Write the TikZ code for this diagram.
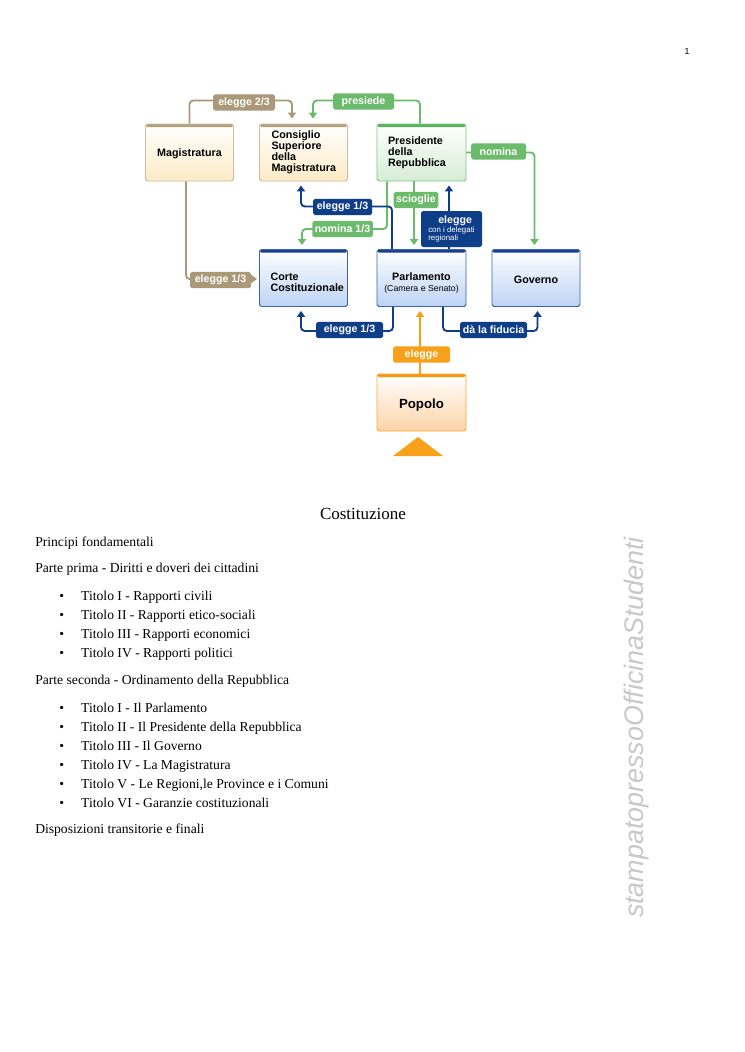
\documentclass[tikz,border=0pt]{standalone}
\usepackage{fontspec}
\setmainfont{Liberation Serif}
\newfontfamily\labfont{Liberation Sans}
\usetikzlibrary{arrows.meta,calc}
\definecolor{tanC}{HTML}{AA9878}
\definecolor{greenC}{HTML}{6CBA6C}
\definecolor{blueC}{HTML}{0F3E88}
\definecolor{orangeC}{HTML}{F7A11A}
\definecolor{tanB}{HTML}{CDBB9B}
\definecolor{tanT}{HTML}{B3A07E}
\definecolor{tanF}{HTML}{FDEBC6}
\definecolor{greenB}{HTML}{7DC57D}
\definecolor{greenT}{HTML}{5DB05D}
\definecolor{greenF}{HTML}{D5EDD5}
\definecolor{blueB}{HTML}{3C64A8}
\definecolor{blueT}{HTML}{1A3F8F}
\definecolor{blueF}{HTML}{BDD3F5}
\definecolor{orangeB}{HTML}{F7A838}
\definecolor{orangeT}{HTML}{F49A10}
\definecolor{orangeF}{HTML}{FDD3A8}
\definecolor{wmC}{HTML}{C8C8C8}
\begin{document}
\begin{tikzpicture}[x=0.8pt,y=-0.8pt,
  bx/.style n args={3}{draw=#1, top color=white, bottom color=#2, line width=0.75pt,
     rounded corners=1.5pt, minimum width=70.4pt, minimum height=45.6pt, inner sep=0pt,
     font=\labfont\bfseries\fontsize{8.6}{8.8}\selectfont,
     path picture={\fill[#3] (path picture bounding box.north west) rectangle ([yshift=-2.4pt]path picture bounding box.north east);}},
  tanbox/.style={bx={tanB}{tanF}{tanT}},
  greenbox/.style={bx={greenB}{greenF}{greenT}},
  bluebox/.style={bx={blueB}{blueF}{blueT}},
  orangebox/.style={bx={orangeB}{orangeF}{orangeT}},
  lab/.style={fill=#1, text=white, rounded corners=1.5pt, inner xsep=2pt, inner ysep=0pt,
     minimum height=13pt, font=\labfont\bfseries\fontsize{8.5}{9}\selectfont},
  con/.style={draw=#1, line width=1.5pt, rounded corners=3pt, -{Triangle[width=6.5pt,length=4.8pt]}},
  body/.style={anchor=base west, inner sep=0pt, font=\fontsize{10.9}{12}\selectfont},
]
\useasboundingbox (0,0) rectangle (744,1052);
\fill[white] (0,0) rectangle (744,1052);

% boxes
\node[tanbox] (mag) at (189.5,152.5) {\rule{0pt}{8pt}Magistratura};
\node[tanbox, text width=51.2pt, align=left] (csm) at (303.5,152.5) {Consiglio\\Superiore\\della\\Magistratura};
\node[greenbox, text width=53.6pt, align=left, minimum width=71.2pt] (pres) at (421.5,152.5) {Presidente\\della\\Repubblica};
\node[bluebox, text width=52.8pt, align=left] (corte) at (303.5,278) {\rule{0pt}{13.5pt}Corte\\Costituzionale};
\node[bluebox, align=center, minimum width=71.2pt] (parl) at (421.5,278) {\rule{0pt}{13.5pt}Parlamento\\{\mdseries\fontsize{7}{8}\selectfont(Camera e Senato)}};
\node[bluebox] (gov) at (536,278) {\rule{0pt}{9.5pt}Governo};
\node[orangebox, minimum width=71.2pt, font=\labfont\bfseries\fontsize{10.6}{12}\selectfont] (pop) at (421.5,402.5) {\rule{0pt}{12.5pt}Popolo};
\fill[orangeC] (393,456) -- (418,437) -- (443,456) -- cycle;

% connectors
\draw[con=tanC] (mag.north) |- ($(csm.north)+(-11.5,-23)$) -- ($(csm.north)+(-11.5,-5)$);
\draw[con=greenC] ($(pres.north)+(-1.5,0)$) |- ($(csm.north)+(9.5,-23)$) -- ($(csm.north)+(9.5,-5)$);
\draw[con=greenC] (pres.east) -| ($(gov.north)+(-1.5,-4)$);
\draw[con=greenC] ($(pres.south)+(-7.5,0)$) -- ($(parl.north)+(-7.5,-4)$);
\draw[con=greenC] ($(pres.south)+(-34.5,0)$) |- ($(corte.north)+(-1.5,-20)$) -- ($(corte.north)+(-1.5,-4)$);
\draw[con=blueC] ($(parl.north)+(-29.5,0)$) |- ($(csm.south)+(-2.5,25)$) -- ($(csm.south)+(-2.5,4)$);
\draw[con=blueC] ($(parl.north)+(27.5,0)$) -- ($(pres.south)+(27.5,4)$);
\draw[con=blueC] ($(parl.south)+(-28.5,0)$) |- ($(corte.south)+(-2.5,24)$) -- ($(corte.south)+(-2.5,4)$);
\draw[con=blueC] ($(parl.south)+(21.5,0)$) |- ($(gov.south)+(1.5,24)$) -- ($(gov.south)+(1.5,4)$);
\draw[con=orangeC] ($(pop.north)+(-1.5,0)$) -- ($(parl.south)+(-1.5,4)$);
\draw[con=tanC] ($(mag.south)+(-3.5,0)$) |- ($(corte.west)+(-2,1)$);

% labels
\node[lab=tanC, minimum width=49.6pt] (l1) at (244,102.5) {elegge 2/3};
\node[lab=greenC, minimum width=48.8pt] (l2) at (363.5,101.5) {presiede};
\node[lab=greenC, minimum width=44pt] (l3) at (498.5,151.5) {nomina};
\node[lab=greenC, minimum width=33.6pt] (l4) at (416,200) {scioglie};
\node[lab=blueC, minimum width=47.2pt] (l5) at (342.5,207) {elegge 1/3};
\node[lab=greenC, minimum width=47.2pt] (l6) at (342.5,229) {nomina 1/3};
\node[lab=blueC, minimum width=48.8pt, minimum height=28.8pt, align=left] (l7) at (451.5,229)
  {\hspace*{8pt}elegge\\[-2pt]{\mdseries\fontsize{6.3}{6.5}\selectfont con i delegati}\\[-2pt]{\mdseries\fontsize{6.3}{6.5}\selectfont regionali}};
\node[lab=tanC, minimum width=48.8pt] (l8) at (220.5,280) {elegge 1/3};
\node[lab=blueC, minimum width=53.6pt] (l9) at (349.5,330) {elegge 1/3};
\node[lab=blueC, minimum width=53.6pt] (l10) at (493.5,330) {dà la fiducia};
\node[lab=orangeC, minimum width=45.6pt] (l11) at (421.5,354.5) {elegge};

% page text
\node[inner sep=0pt, font=\labfont\fontsize{7}{8}\selectfont] (pg) at (687,51) {1};
\node[anchor=base, inner sep=0pt, font=\fontsize{13.6}{15}\selectfont] (title) at (363,519) {Costituzione};
\node[body] (t1) at (35,546) {Principi fondamentali};
\node[body] (t2) at (35,572) {Parte prima - Diritti e doveri dei cittadini};
\node[body] (t3) at (59,600) {\makebox[17.6pt][l]{\textbullet}Titolo I - Rapporti civili};
\node[body] (t4) at (59,619) {\makebox[17.6pt][l]{\textbullet}Titolo II - Rapporti etico-sociali};
\node[body] (t5) at (59,638) {\makebox[17.6pt][l]{\textbullet}Titolo III - Rapporti economici};
\node[body] (t6) at (59,657) {\makebox[17.6pt][l]{\textbullet}Titolo IV - Rapporti politici};
\node[body] (t7) at (35,684) {Parte seconda - Ordinamento della Repubblica};
\node[body] (t8) at (59,712.5) {\makebox[17.6pt][l]{\textbullet}Titolo I - Il Parlamento};
\node[body] (t9) at (59,731.5) {\makebox[17.6pt][l]{\textbullet}Titolo II - Il Presidente della Repubblica};
\node[body] (t10) at (59,750.5) {\makebox[17.6pt][l]{\textbullet}Titolo III - Il Governo};
\node[body] (t11) at (59,769) {\makebox[17.6pt][l]{\textbullet}Titolo IV - La Magistratura};
\node[body] (t12) at (59,788) {\makebox[17.6pt][l]{\textbullet}Titolo V - Le Regioni,le Province e i Comuni};
\node[body] (t13) at (59,807) {\makebox[17.6pt][l]{\textbullet}Titolo VI - Garanzie costituzionali};
\node[body] (t14) at (35,833) {Disposizioni transitorie e finali};

% watermark
\node[rotate=90, inner sep=0pt, text=wmC, font=\labfont\itshape\fontsize{21.5}{24}\selectfont] (wm) at (637,727.5) {stampatopressoOfficinaStudenti};
\end{tikzpicture}
\end{document}
